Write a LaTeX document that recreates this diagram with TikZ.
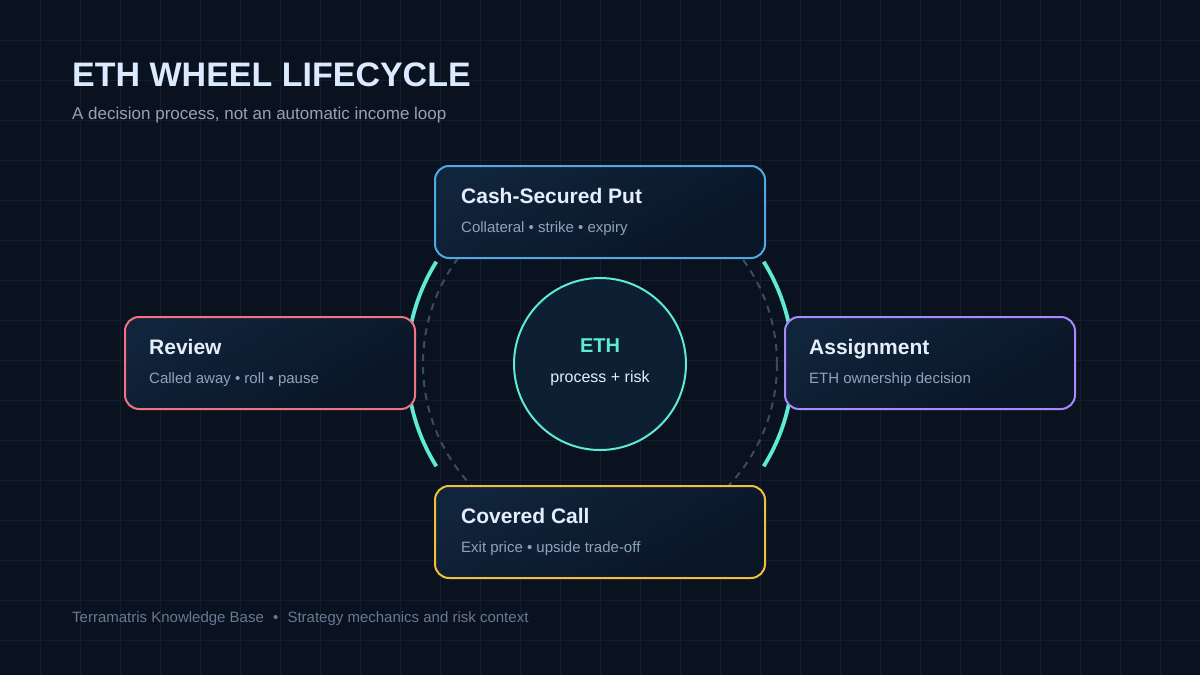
\documentclass[tikz,border=0pt]{standalone}
\usepackage{fontspec}
\setmainfont{Liberation Sans}
\definecolor{bgc}{HTML}{0A1220}
\definecolor{gridc}{HTML}{121E2D}
\definecolor{titlec}{HTML}{DBEAFE}
\definecolor{subc}{HTML}{94A3B8}
\definecolor{boxtitle}{HTML}{E4EEFC}
\definecolor{boxsub}{HTML}{8FA3BD}
\definecolor{footc}{HTML}{677A93}
\definecolor{bluec}{HTML}{4FA9E3}
\definecolor{redc}{HTML}{EE7482}
\definecolor{purplec}{HTML}{A78BFA}
\definecolor{amberc}{HTML}{F2BF3C}
\definecolor{tealc}{HTML}{5EEAD4}
\definecolor{dashc}{HTML}{3A4C62}
\definecolor{boxA}{HTML}{10243B}
\definecolor{boxB}{HTML}{0A1526}
\definecolor{circfill}{HTML}{0C1F33}
\begin{document}
\begin{tikzpicture}[x=1pt,y=-1pt,
  card/.style={draw=#1, line width=2pt, rounded corners=14pt, inner sep=0pt,
    minimum width=330pt, minimum height=92pt,
    top color=boxA, bottom color=boxB, shading angle=30},
  cardtitle/.style={anchor=base west, inner sep=0pt, text=boxtitle,
    font=\fontsize{21}{25}\selectfont\bfseries},
  cardsub/.style={anchor=base west, inner sep=0pt, text=boxsub,
    font=\fontsize{15}{18}\selectfont},
  wheelarc/.style={draw=tealc, line width=3.8pt},
  dashring/.style={draw=dashc, line width=2pt, dash pattern=on 7pt off 6pt}]
% background and grid
\fill[bgc] (0,0) rectangle (1200,675);
\useasboundingbox (0,0) rectangle (1200,675);
\foreach \x in {40,80,...,1160} \draw[gridc, line width=0.8pt] (\x,0) -- (\x,675);
\foreach \y in {40,80,...,640} \draw[gridc, line width=0.8pt] (0,\y) -- (1200,\y);
% title
\node[anchor=base west, inner sep=0pt, text=titlec, font=\fontsize{34}{40}\selectfont\bfseries] (title) at (72,86) {ETH WHEEL LIFECYCLE};
\node[anchor=base west, inner sep=0pt, text=subc, font=\fontsize{17}{20}\selectfont] (subtitle) at (72,119) {A decision process, not an automatic income loop};
% rings
\coordinate (ctr) at (600,364);
\draw[dashring] (ctr) circle[radius=177];
\draw[wheelarc] (ctr) ++(148:193) arc[start angle=148, end angle=212, radius=193];
\draw[wheelarc] (ctr) ++(-32:193) arc[start angle=-32, end angle=32, radius=193];
% cards
\node[card=bluec] (csp) at (600,212) {};
\node[card=redc, minimum width=290pt] (review) at (270,363) {};
\node[card=purplec, minimum width=290pt] (assign) at (930,363) {};
\node[card=amberc] (cc) at (600,532) {};
% card texts
\node[cardtitle] (cspT) at (461,203.5) {Cash-Secured Put};
\node[cardsub] (cspS) at (461,232) {Collateral • strike • expiry};
\node[cardtitle] (revT) at (149,354.5) {Review};
\node[cardsub] (revS) at (149,383) {Called away • roll • pause};
\node[cardtitle] (asgT) at (809,354.5) {Assignment};
\node[cardsub] (asgS) at (809,383) {ETH ownership decision};
\node[cardtitle] (ccT) at (461,523.5) {Covered Call};
\node[cardsub] (ccS) at (461,552) {Exit price • upside trade-off};
% center
\node[circle, draw=tealc, line width=2pt, fill=circfill, minimum size=172pt, inner sep=0pt] (hub) at (600,364) {};
\node[anchor=base, inner sep=0pt, text=tealc, font=\fontsize{20}{24}\selectfont\bfseries] (hubT) at (600,352) {ETH};
\node[anchor=base, inner sep=0pt, text=boxtitle, font=\fontsize{16}{19}\selectfont] (hubS) at (600,382) {process + risk};
% footer
\node[anchor=base west, inner sep=0pt, text=footc, font=\fontsize{15}{18}\selectfont] (foot) at (72,622) {Terramatris Knowledge Base\hspace{5pt} •\hspace{5pt} Strategy mechanics and risk context};
\end{tikzpicture}
\end{document}
